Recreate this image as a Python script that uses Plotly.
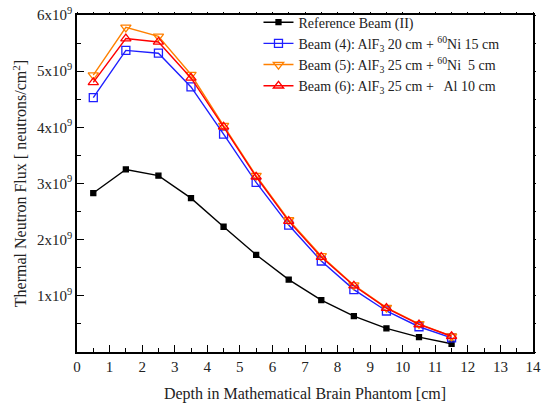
import plotly.graph_objects as go

depth = [0.5, 1.5, 2.5, 3.5, 4.5, 5.5, 6.5, 7.5, 8.5, 9.5, 10.5, 11.5]

ref_beam = [2.83e9, 3.25e9, 3.14e9, 2.74e9, 2.23e9, 1.73e9, 1.29e9, 0.925e9, 0.64e9, 0.42e9, 0.265e9, 0.147e9]
beam4 = [4.53e9, 5.37e9, 5.32e9, 4.72e9, 3.88e9, 3.02e9, 2.26e9, 1.62e9, 1.11e9, 0.73e9, 0.45e9, 0.25e9]
beam5 = [4.93e9, 5.78e9, 5.62e9, 4.94e9, 4.03e9, 3.14e9, 2.35e9, 1.71e9, 1.19e9, 0.79e9, 0.50e9, 0.28e9]
beam6 = [4.80e9, 5.58e9, 5.52e9, 4.88e9, 4.01e9, 3.12e9, 2.33e9, 1.69e9, 1.18e9, 0.78e9, 0.49e9, 0.28e9]

names = [
    "Reference Beam (II)",
    "Beam (4): AlF<sub>3</sub> 20 cm + <sup>60</sup>Ni 15 cm",
    "Beam (5): AlF<sub>3</sub> 25 cm + <sup>60</sup>Ni  5 cm",
    "Beam (6): AlF<sub>3</sub> 25 cm +   Al 10 cm",
]

y_tickvals = [1e9, 2e9, 3e9, 4e9, 5e9, 6e9]
y_ticktext = ["1x10<sup>9</sup>", "2x10<sup>9</sup>", "3x10<sup>9</sup>",
              "4x10<sup>9</sup>", "5x10<sup>9</sup>", "6x10<sup>9</sup>"]

FONT = "Liberation Serif, Times New Roman, serif"

fig = go.Figure()
series = [
    (ref_beam, "black", "square", 5),
    (beam4, "#1f1fff", "square-open", 8),
    (beam5, "#ff8000", "triangle-down-open", 9),
    (beam6, "#ff0000", "triangle-up-open", 9),
]
for (vals, color, sym, size), name in zip(series, names):
    fig.add_trace(go.Scatter(
        x=depth, y=vals, name=name, mode="lines+markers",
        line=dict(color=color, width=1.4),
        marker=dict(symbol=sym, size=size, color=color,
                    line=dict(color=color, width=1.3)),
    ))

# invisible carrier so the top/right tick axes get drawn
fig.add_trace(go.Scatter(
    x=depth, y=ref_beam, xaxis="x2", yaxis="y2", mode="lines",
    opacity=0, showlegend=False, hoverinfo="skip",
))

axis_common = dict(
    showline=True, linecolor="black", linewidth=1.5, mirror=True,
    ticks="inside", tickcolor="black", ticklen=7, tickwidth=1.2,
    showgrid=False, zeroline=False, automargin=False,
    tickfont=dict(family=FONT, size=15, color="#222"),
)

fig.update_layout(
    xaxis=dict(
        range=[0, 14], dtick=1, tick0=0, ticklabeloverflow="allow",
        minor=dict(ticks="inside", ticklen=4, dtick=0.5, tickcolor="black", showgrid=False),
        title=dict(text="Depth in Mathematical Brain Phantom [cm]",
                   font=dict(family=FONT, size=16, color="#222"), standoff=14),
        **axis_common,
    ),
    yaxis=dict(
        range=[0, 6e9], tickvals=y_tickvals, ticktext=y_ticktext,
        minor=dict(ticks="inside", ticklen=4,
                   tickvals=[0.5e9, 1.5e9, 2.5e9, 3.5e9, 4.5e9, 5.5e9],
                   tickcolor="black", showgrid=False),
        title=dict(text="Thermal Neutron Flux [ neutrons/cm<sup>2</sup>]",
                   font=dict(family=FONT, size=16, color="#222"), standoff=6),
        **axis_common,
    ),
    xaxis2=dict(
        overlaying="x", side="top", range=[0, 14], tick0=0, dtick=0.5,
        ticks="outside", ticklen=2, tickwidth=1, tickcolor="black",
        showticklabels=False, showgrid=False, zeroline=False, showline=False,
    ),
    yaxis2=dict(
        overlaying="y", side="right", range=[0, 6e9], tick0=0, dtick=0.5e9,
        ticks="outside", ticklen=2, tickwidth=1, tickcolor="black",
        showticklabels=False, showgrid=False, zeroline=False, showline=False,
    ),
    width=542, height=407,
    margin=dict(l=77, r=7, t=13, b=55),
    paper_bgcolor="white", plot_bgcolor="white",
    font=dict(family=FONT, color="#222"),
    legend=dict(
        x=0.398, y=1.025, xanchor="left", yanchor="top",
        bgcolor="rgba(255,255,255,0)", borderwidth=0,
        font=dict(family=FONT, size=14, color="#222"),
        tracegroupgap=0, itemwidth=30,
    ),
)

fig.write_html("out.html")
